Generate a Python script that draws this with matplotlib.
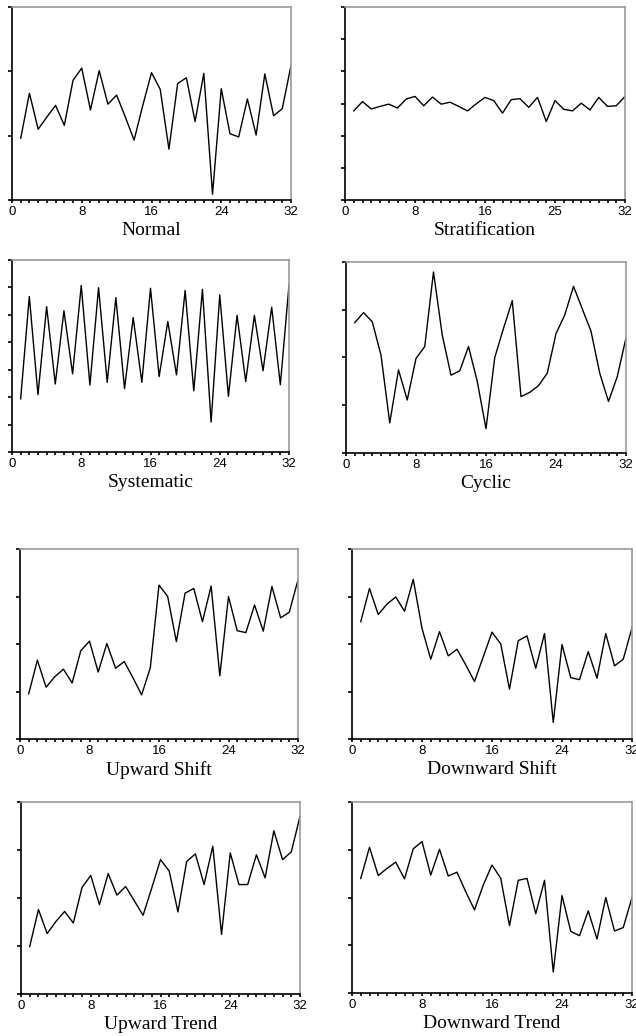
import matplotlib
matplotlib.use("Agg")
import matplotlib.pyplot as plt
import numpy as np

# sample index 1..32 for every chart
samples = list(range(1, 33))

normal = [0.96, 1.66, 1.10, 1.29, 1.47, 1.16, 1.86, 2.05, 1.40, 2.01, 1.49, 1.63, 1.29, 0.93, 1.47, 1.98,
          1.72, 0.79, 1.81, 1.90, 1.22, 1.97, 0.09, 1.73, 1.03, 0.98, 1.57, 1.01, 1.96, 1.31, 1.42, 2.09]
stratification = [2.77, 3.06, 2.83, 2.91, 2.98, 2.86, 3.14, 3.22, 2.93, 3.20, 2.98, 3.04, 2.91, 2.77, 2.99, 3.19,
                  3.09, 2.70, 3.12, 3.15, 2.88, 3.19, 2.44, 3.09, 2.82, 2.77, 3.01, 2.80, 3.19, 2.91, 2.93, 3.22]
systematic = [1.94, 5.67, 2.09, 5.30, 2.48, 5.15, 2.85, 6.07, 2.44, 5.99, 2.54, 5.63, 2.31, 4.90, 2.54, 5.97,
              2.75, 4.76, 2.81, 5.89, 2.23, 5.93, 1.09, 5.73, 2.03, 4.98, 2.57, 4.98, 2.96, 5.28, 2.45, 6.09]
cyclic = [2.73, 2.94, 2.75, 2.05, 0.63, 1.74, 1.11, 1.98, 2.23, 3.79, 2.47, 1.63, 1.72, 2.23, 1.50, 0.51,
          2.00, 2.61, 3.19, 1.18, 1.27, 1.41, 1.67, 2.50, 2.89, 3.49, 3.02, 2.55, 1.67, 1.08, 1.60, 2.41]
upward_shift = [0.95, 1.66, 1.09, 1.31, 1.47, 1.18, 1.86, 2.06, 1.41, 2.01, 1.49, 1.63, 1.29, 0.93, 1.50, 3.24,
                3.00, 2.05, 3.07, 3.17, 2.47, 3.22, 1.33, 3.00, 2.28, 2.24, 2.82, 2.27, 3.21, 2.55, 2.67, 3.35]
downward_shift = [2.47, 3.17, 2.62, 2.84, 2.99, 2.69, 3.36, 2.33, 1.68, 2.26, 1.75, 1.89, 1.56, 1.21, 1.73, 2.25,
                  2.00, 1.05, 2.07, 2.17, 1.49, 2.22, 0.35, 1.99, 1.29, 1.25, 1.84, 1.28, 2.22, 1.54, 1.68, 2.34]
upward_trend = [0.99, 1.76, 1.26, 1.51, 1.72, 1.48, 2.22, 2.47, 1.86, 2.51, 2.06, 2.24, 1.94, 1.64, 2.21, 2.80,
                2.56, 1.71, 2.76, 2.92, 2.28, 3.08, 1.24, 2.94, 2.28, 2.28, 2.90, 2.42, 3.40, 2.80, 2.96, 3.70]
downward_trend = [2.40, 3.05, 2.46, 2.61, 2.74, 2.39, 3.02, 3.17, 2.47, 3.01, 2.45, 2.53, 2.12, 1.74, 2.26, 2.68,
                  2.40, 1.41, 2.36, 2.40, 1.66, 2.36, 0.44, 2.04, 1.29, 1.20, 1.72, 1.13, 2.00, 1.30, 1.37, 2.00]

titles = ["Normal", "Stratification", "Systematic", "Cyclic",
          "Upward Shift", "Downward Shift", "Upward Trend", "Downward Trend"]
series = [normal, stratification, systematic, cyclic,
          upward_shift, downward_shift, upward_trend, downward_trend]
y_tops = [3, 6, 7, 4, 4, 4, 4, 4]
x_ticks = [0, 8, 16, 24, 32]
x_labels_default = ["0", "8", "16", "24", "32"]
x_labels_strat = ["0", "8", "16", "25", "32"]

W, H = 636, 1036
fig = plt.figure(figsize=(W / 100, H / 100), dpi=100)

# axes boxes in pixels: left, right, top, bottom
boxes = [(12, 291, 7, 200), (345, 625, 7, 200),
         (12, 289, 260, 452), (346, 626, 262, 453),
         (20, 298, 549, 739), (352, 632, 549, 739),
         (21, 300, 802, 994), (352, 632, 802, 993)]

for i in range(8):
    l, r, t, b = boxes[i]
    ax = fig.add_axes([l / W, 1 - b / H, (r - l) / W, (b - t) / H])
    ax.plot(samples, series[i], color='black', lw=1.0)
    ax.set_xlim(0, 32)
    ax.set_ylim(0, y_tops[i])
    ax.set_xticks(x_ticks)
    ax.set_xticks(range(33), minor=True)
    ax.set_xticklabels(x_labels_strat if titles[i] == "Stratification" else x_labels_default,
                       fontfamily='Liberation Sans', fontsize=9.5)
    ax.set_yticks(range(y_tops[i] + 1))
    ax.set_yticklabels([])
    ax.tick_params(axis='x', which='both', direction='out', length=2.5, width=1.2, pad=1.5)
    ax.tick_params(axis='y', direction='out', length=3, width=1.2)
    for side in ('left', 'bottom'):
        ax.spines[side].set_color('black')
        ax.spines[side].set_linewidth(1.2)
    for side in ('top', 'right'):
        ax.spines[side].set_color('#999999')
        ax.spines[side].set_linewidth(1.2)
    ax.set_xlabel(titles[i], fontfamily='Liberation Serif', fontsize=14, labelpad=3)

plt.savefig('out.png', dpi=100)
